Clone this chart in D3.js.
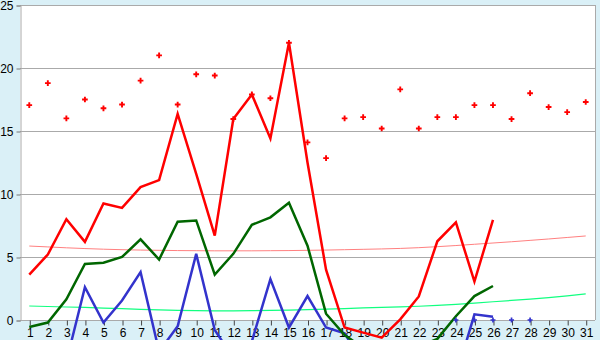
<!DOCTYPE html>
<html>
<head>
<meta charset="utf-8">
<script src="https://cdn.jsdelivr.net/npm/d3@7"></script>
<style>
  html, body { margin: 0; padding: 0; background: #daf0f7; }
  svg { display: block; }
</style>
</head>
<body>
<div id="chart"></div>
<script>
const days = [1, 2, 3, 4, 5, 6, 7, 8, 9, 10, 11, 12, 13, 14, 15, 16, 17, 18, 19, 20, 21, 22, 23, 24, 25, 26, 27, 28, 29, 30, 31];
const yTicks = [0, 5, 10, 15, 20, 25];

// thick lines (days 1-26)
const redLine = [3.6, 5.2, 8.0, 6.2, 9.25, 8.9, 10.55, 11.1, 16.35, 11.6, 6.7, 15.95, 17.9, 14.4, 22.0, 12.5, 4.0, -0.6, -1.0, -1.4, 0.05, 1.87, 6.25, 7.75, 3.05, 7.95];
const greenLine = [-0.55, -0.2, 1.65, 4.45, 4.55, 5.0, 6.4, 4.8, 7.8, 7.9, 3.6, 5.25, 7.55, 8.15, 9.3, 5.9, 0.5, -1.2, -2.2, -2.8, -2.6, -2.1, -1.5, 0.3, 1.9, 2.7];
const blueLine = [-3.5, -4.0, -3.3, 2.6, -0.2, 1.55, 3.8, -2.5, -0.5, 5.25, -0.8, -3.0, -1.7, 3.25, -0.6, 1.9, -0.6, -1.05, -3.5, -4.0, -4.0, -4.0, -4.2, -4.5, 0.45, 0.25];

// marker series
const redDots = [17.05, 18.8, 16.0, 17.5, 16.8, 17.1, 19.0, 21.0, 17.1, 19.5, 19.4, 15.95, 17.9, 17.6, 22.0, 14.1, 12.85, 16.0, 16.1, 15.2, 18.3, 15.2, 16.1, 16.1, 17.05, 17.05, 15.95, 18.0, 16.9, 16.5, 17.3];
const blueDots = [null, null, null, null, null, null, null, null, null, null, null, null, null, null, null, null, null, null, null, null, null, null, null, 0, 0, 0, 0, 0, null, null, null];

// thin trend curves
const pinkTrend = [5.87, 5.80, 5.73, 5.67, 5.62, 5.58, 5.55, 5.53, 5.51, 5.50, 5.49, 5.49, 5.49, 5.50, 5.51, 5.53, 5.55, 5.58, 5.61, 5.64, 5.68, 5.74, 5.82, 5.91, 6.01, 6.11, 6.21, 6.32, 6.43, 6.55, 6.67];
const greenTrend = [1.11, 1.07, 1.03, 1.0, 0.95, 0.9, 0.85, 0.8, 0.76, 0.74, 0.73, 0.73, 0.74, 0.76, 0.79, 0.83, 0.87, 0.91, 0.96, 1.0, 1.04, 1.09, 1.16, 1.24, 1.34, 1.45, 1.55, 1.66, 1.78, 1.92, 2.07];

const width = 600, height = 340;
const margin = { left: 20, right: 595, top: 5, bottom: 320 };

const svg = d3.select('#chart').append('svg')
    .attr('width', width)
    .attr('height', height);

const x = d3.scalePoint().domain(days).range([margin.left, margin.right]).padding(0.5);
const y = d3.scaleLinear().domain([0, 25]).range([margin.bottom, margin.top]);

svg.append('rect')
    .attr('x', margin.left).attr('y', margin.top)
    .attr('width', margin.right - margin.left).attr('height', margin.bottom - margin.top)
    .attr('fill', '#ffffff');

// grid
svg.append('g')
    .selectAll('line')
    .data(yTicks)
    .join('line')
    .attr('x1', margin.left).attr('x2', margin.right)
    .attr('y1', d => y(d) + 0.5).attr('y2', d => y(d) + 0.5)
    .attr('stroke', '#aaaaaa');

svg.append('line')
    .attr('x1', margin.right + 0.5).attr('x2', margin.right + 0.5)
    .attr('y1', margin.top).attr('y2', margin.bottom)
    .attr('stroke', '#aaaaaa');

// y axis
const yAxis = svg.append('g')
    .attr('transform', `translate(${margin.left + 0.5},0.5)`)
    .call(d3.axisLeft(y).tickValues(yTicks).tickSize(4).tickPadding(3));
yAxis.select('.domain').attr('stroke', '#aaaaaa');
yAxis.selectAll('.tick line').attr('stroke', '#777777');
yAxis.selectAll('text')
    .attr('fill', '#000')
    .attr('font-family', '"Liberation Sans", Arial, sans-serif')
    .attr('font-size', '12px');

// x axis
const xAxis = svg.append('g')
    .attr('transform', `translate(0.5,${margin.bottom + 0.5})`)
    .call(d3.axisBottom(x).tickSize(5).tickPadding(3));
xAxis.select('.domain').remove();
xAxis.selectAll('.tick line').attr('stroke', '#444444');
xAxis.selectAll('text')
    .attr('fill', '#000')
    .attr('font-family', '"Liberation Sans", Arial, sans-serif')
    .attr('font-size', '12px');

function drawLine(values, color, w) {
    const line = d3.line()
        .defined(d => d != null)
        .x((d, i) => x(days[i]))
        .y(d => y(d));
    svg.append('path')
        .datum(values)
        .attr('d', line)
        .attr('fill', 'none')
        .attr('stroke', color)
        .attr('stroke-width', w)
        .attr('stroke-linejoin', 'miter');
}

drawLine(pinkTrend, '#ff8080', 1);
drawLine(greenTrend, '#11ff80', 1.2);
drawLine(blueLine, '#3333cc', 2.5);
drawLine(greenLine, '#006600', 2.5);
drawLine(redLine, '#ff0000', 2.5);

function drawDots(values, color, size) {
    svg.append('g')
        .selectAll('path')
        .data(values.map((v, i) => ({ day: days[i], v })).filter(d => d.v != null))
        .join('path')
        .attr('d', d3.symbol(d3.symbolCross, size))
        .attr('transform', d => `translate(${x(d.day)},${y(d.v)})`)
        .attr('fill', color);
}

drawDots(redDots, '#ff0000', 18);
drawDots(blueDots, '#3333cc', 14);
</script>
</body>
</html>
